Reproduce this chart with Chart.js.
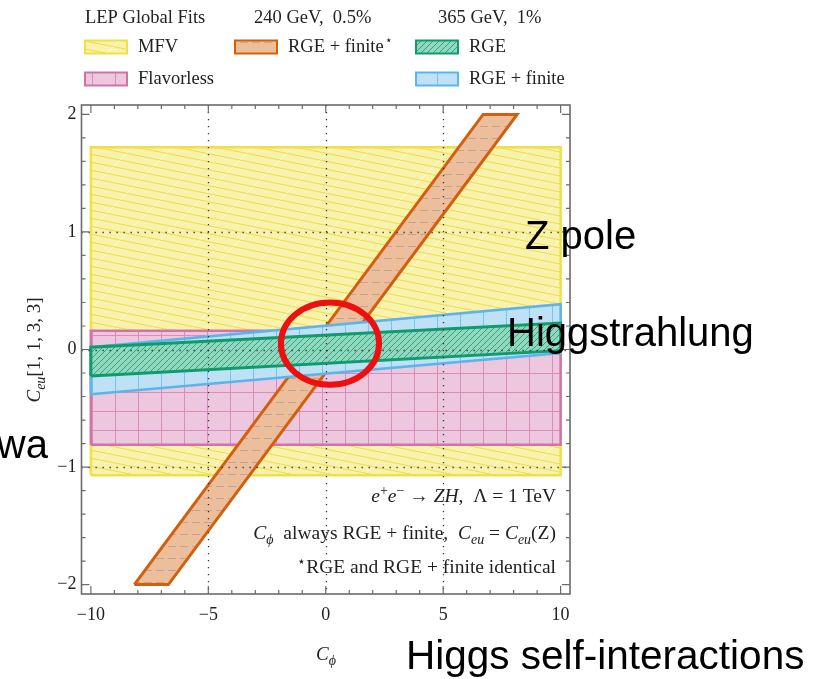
<!DOCTYPE html>
<html>
<head>
<meta charset="utf-8">
<script src="https://cdn.jsdelivr.net/npm/chart.js@4.4.1/dist/chart.umd.min.js"></script>
<style>
  html, body { margin: 0; padding: 0; background: #fff; }
  canvas { display: block; }
</style>
</head>
<body>
<canvas id="c" width="826" height="679"></canvas>
<script>
// ---- data ----
const bandX = [-10, 10];                 // C_phi at the band ends
const mfvLow = [-1.07, -1.07];
const mfvHigh = [1.72, 1.72];
const flavLow = [-0.81, -0.81];
const flavHigh = [0.16, 0.16];
const rgeLow = [-0.225, -0.01];
const rgeHigh = [0.02, 0.225];
const rgeFinLow = [-0.38, -0.03];
const rgeFinHigh = [0.02, 0.385];
const starY = [-2, 2];                   // the steep 240 GeV band
const starLeftX = [-8.15, 6.7];
const starRightX = [-6.7, 8.15];

const refX = [-5, 0, 5];                 // dotted reference lines
const refY = [-1, 0, 1];

const legendHeaders = ['LEP Global Fits', '240 GeV,  0.5%', '365 GeV,  1%'];
const overlayLabels = ['Z pole', 'Higgstrahlung', 'wa', 'Higgs self-interactions'];

// highlighted region (red ellipse): centre and half-widths in data units
const ringCenter = [0.18, 0.05];
const ringRadius = [2.09, 0.35];

const SERIF = '"Liberation Serif", "DejaVu Serif", serif';
const SANS = '"Liberation Sans", Arial, sans-serif';
const TXT = 18.5;    // legend text size
const NOTE = 19.5;   // note text size

const canvas = document.getElementById('c');
const ctx = canvas.getContext('2d');

// ---- hatch patterns ----
function makePattern(w, h, bg, draw, shift) {
    const c = document.createElement('canvas');
    c.width = w; c.height = h;
    const g = c.getContext('2d');
    g.fillStyle = bg;
    g.fillRect(0, 0, w, h);
    draw(g, w, h);
    const p = ctx.createPattern(c, 'repeat');
    if (shift) p.setTransform(new DOMMatrix().translate(shift[0], shift[1]));
    return p;
}

const mfvPattern = makePattern(40, 40, '#f9f2ad', (g) => {
    g.strokeStyle = 'rgba(255,255,255,0.6)';
    g.lineWidth = 1;
    g.beginPath(); g.moveTo(0, 40); g.lineTo(40, 0); g.stroke();
    g.strokeStyle = '#efdc48';
    g.lineWidth = 1.1;
    for (let k = -1; k <= 5; k++) {
        g.beginPath(); g.moveTo(0, 8 * k); g.lineTo(40, 8 * k + 8); g.stroke();
    }
});

const flavPattern = makePattern(23, 19, '#ecc7dd', (g, w, h) => {
    g.strokeStyle = '#d98dbd';
    g.lineWidth = 1;
    g.beginPath();
    g.moveTo(0.5, 0); g.lineTo(0.5, h);
    g.moveTo(0, 0.5); g.lineTo(w, 0.5);
    g.stroke();
}, [0, 12]);

const rgeFinPattern = makePattern(23, 23, '#bfe1f6', (g, w, h) => {
    g.strokeStyle = '#7cc2ee';
    g.lineWidth = 1;
    g.beginPath(); g.moveTo(0.5, 0); g.lineTo(0.5, h); g.stroke();
});

const rgePattern = makePattern(6, 6, '#93d7bf', (g) => {
    g.strokeStyle = '#2aa57d';
    g.lineWidth = 1;
    g.beginPath();
    g.moveTo(0, 6); g.lineTo(6, 0);
    g.moveTo(-3, 3); g.lineTo(3, -3);
    g.moveTo(3, 9); g.lineTo(9, 3);
    g.stroke();
});

const starPattern = makePattern(12, 12, '#edbe9b', (g) => {
    g.strokeStyle = 'rgba(150,140,140,0.5)';
    g.lineWidth = 1;
    g.beginPath(); g.moveTo(0, 6.5); g.lineTo(8, 6.5); g.stroke();
});

// closed polygon for a band between two straight edges
function band(xs, lo, hi) {
    return [
        { x: xs[0], y: lo[0] }, { x: xs[1], y: lo[1] },
        { x: xs[1], y: hi[1] }, { x: xs[0], y: hi[0] },
        { x: xs[0], y: lo[0] }
    ];
}
function slantBand(ys, left, right) {
    return [
        { x: left[0], y: ys[0] }, { x: right[0], y: ys[0] },
        { x: right[1], y: ys[1] }, { x: left[1], y: ys[1] },
        { x: left[0], y: ys[0] }
    ];
}

function region(label, data, fillPat, edge, width, order) {
    return {
        label: label,
        data: data,
        backgroundColor: fillPat,
        borderColor: edge,
        borderWidth: width,
        borderJoinStyle: 'miter',
        fill: 'shape',
        pointRadius: 0,
        tension: 0,
        order: order
    };
}

const datasets = [
    region('RGE', band(bandX, rgeLow, rgeHigh), rgePattern, '#109b6f', 3, 0),
    region('RGE + finite', band(bandX, rgeFinLow, rgeFinHigh), rgeFinPattern, '#5cb5ea', 2.5, 1),
    region('RGE + finite*', slantBand(starY, starLeftX, starRightX), starPattern, '#d35f0e', 3, 2),
    region('Flavorless', band(bandX, flavLow, flavHigh), flavPattern, '#cf74a9', 2.5, 3),
    region('MFV', band(bandX, mfvLow, mfvHigh), mfvPattern, '#efe045', 2.5, 4)
];

// ---- rich text helper (italic, sub/superscripts) ----
function pieceFont(p, size) {
    const s = p.pos ? Math.round(size * 0.72) : size;
    return (p.it ? 'italic ' : '') + s + 'px ' + SERIF;
}
function richWidth(g, pieces, size) {
    let w = 0;
    pieces.forEach(p => { g.font = pieceFont(p, size); w += g.measureText(p.t).width; });
    return w;
}
function drawRich(g, pieces, x, y, size, align) {
    const w = richWidth(g, pieces, size);
    let cx = align === 'right' ? x - w : align === 'center' ? x - w / 2 : x;
    g.textBaseline = 'alphabetic';
    g.textAlign = 'left';
    pieces.forEach(p => {
        g.font = pieceFont(p, size);
        const dy = p.pos === 'sub' ? size * 0.25 : p.pos === 'sup' ? -size * 0.38 : 0;
        g.fillText(p.t, cx, y + dy);
        cx += g.measureText(p.t).width;
    });
}

const noteRich = [
    [{ t: 'e', it: 1 }, { t: '+', pos: 'sup' }, { t: 'e', it: 1 }, { t: '−', pos: 'sup' },
     { t: ' → ' }, { t: 'ZH', it: 1 }, { t: ',  Λ = 1 TeV' }],
    [{ t: 'C', it: 1 }, { t: 'ϕ', it: 1, pos: 'sub' }, { t: '  always RGE + finite,  ' },
     { t: 'C', it: 1 }, { t: 'eu', it: 1, pos: 'sub' }, { t: ' = ' },
     { t: 'C', it: 1 }, { t: 'eu', it: 1, pos: 'sub' }, { t: '(Z)' }],
    [{ t: '⋆', pos: 'sup' }, { t: 'RGE and RGE + finite identical' }]
];

// ---- decorations: frame, inward ticks, dotted lines, legend, notes ----
const decor = {
    id: 'decor',
    afterDatasetsDraw(chart) {
        const g = chart.ctx;
        const { left, right, top, bottom } = chart.chartArea;
        const xs = chart.scales.x, ys = chart.scales.y;

        // dotted reference lines
        g.save();
        g.strokeStyle = '#333';
        g.lineWidth = 1.3;
        g.setLineDash([1.3, 5.7]);
        refX.forEach(v => {
            const px = Math.round(xs.getPixelForValue(v)) + 0.5;
            g.beginPath(); g.moveTo(px, top); g.lineTo(px, bottom); g.stroke();
        });
        refY.forEach(v => {
            const py = Math.round(ys.getPixelForValue(v)) + 0.5;
            g.beginPath(); g.moveTo(left, py); g.lineTo(right, py); g.stroke();
        });
        g.restore();

        // frame
        g.save();
        g.strokeStyle = '#6b6b6b';
        g.lineWidth = 1.6;
        g.strokeRect(left, top, right - left, bottom - top);

        // inward ticks on all four sides
        g.lineWidth = 1.2;
        g.beginPath();
        for (let v = -10; v <= 10; v++) {
            const px = xs.getPixelForValue(v);
            const len = v % 5 === 0 ? 8 : 4;
            g.moveTo(px, bottom); g.lineTo(px, bottom - len);
            g.moveTo(px, top); g.lineTo(px, top + len);
        }
        for (let k = -10; k <= 10; k++) {
            const py = ys.getPixelForValue(k / 5);
            const len = k % 5 === 0 ? 8 : 4;
            g.moveTo(left, py); g.lineTo(left + len, py);
            g.moveTo(right, py); g.lineTo(right - len, py);
        }
        g.stroke();
        g.restore();
    },
    afterDraw(chart) {
        const g = chart.ctx;
        const xs = chart.scales.x, ys = chart.scales.y;
        g.save();
        g.fillStyle = '#222';

        // axis titles
        drawRich(g, [{ t: 'C', it: 1 }, { t: 'ϕ', it: 1, pos: 'sub' }], 326, 660, 19, 'center');
        g.save();
        g.translate(40, 350);
        g.rotate(-Math.PI / 2);
        drawRich(g, [{ t: 'C', it: 1 }, { t: 'eu', it: 1, pos: 'sub' }, { t: '[1, 1, 3, 3]' }], 0, 0, 19, 'center');
        g.restore();

        // legend
        g.font = TXT + 'px ' + SERIF;
        g.textBaseline = 'middle';
        g.textAlign = 'left';
        const headX = [85, 254, 438];
        legendHeaders.forEach((h, i) => g.fillText(h, headX[i], 18));
        const byLabel = {};
        chart.data.datasets.forEach(d => { byLabel[d.label] = d; });
        const items = [
            ['MFV', 85, 47], ['Flavorless', 85, 79],
            ['RGE + finite*', 235, 47],
            ['RGE', 416, 47], ['RGE + finite', 416, 79]
        ];
        items.forEach(([name, x, y]) => {
            const d = byLabel[name];
            g.fillStyle = d.backgroundColor;
            g.fillRect(x, y - 6.5, 42, 13);
            g.strokeStyle = d.borderColor;
            g.lineWidth = 2;
            g.strokeRect(x, y - 6.5, 42, 13);
            g.fillStyle = '#222';
            const txt = name.replace('*', '');
            g.font = TXT + 'px ' + SERIF;
            const tw = g.measureText(txt).width;
            g.fillText(txt, x + 53, y);
            if (name.endsWith('*')) {
                g.font = '12px ' + SERIF;
                g.fillText('⋆', x + 53 + tw + 1, y - 6);
            }
        });

        // notes in the lower right
        const noteY = [502, 539, 573];
        noteRich.forEach((pieces, i) => drawRich(g, pieces, 556, noteY[i], NOTE, 'right'));

        // red ring
        g.strokeStyle = '#ee1010';
        g.lineWidth = 6;
        const cx = xs.getPixelForValue(ringCenter[0]);
        const cy = ys.getPixelForValue(ringCenter[1]);
        const rx = xs.getPixelForValue(ringCenter[0] + ringRadius[0]) - cx;
        const ry = cy - ys.getPixelForValue(ringCenter[1] + ringRadius[1]);
        g.beginPath();
        g.ellipse(cx, cy, rx, ry, 0, 0, Math.PI * 2);
        g.stroke();

        // overlay labels
        g.fillStyle = '#000';
        g.font = '40px ' + SANS;
        g.textBaseline = 'alphabetic';
        g.textAlign = 'left';
        g.fillText(overlayLabels[0], 525, 249);
        g.fillText(overlayLabels[1], 507, 346);
        g.textAlign = 'right';
        g.fillText(overlayLabels[2], 48, 458);
        g.textAlign = 'left';
        g.font = '40.5px ' + SANS;
        g.fillText(overlayLabels[3], 406, 669);
        g.restore();
    }
};

function tickText(v) {
    return v < 0 ? '−' + Math.abs(v) : String(v);
}

new Chart(ctx, {
    type: 'line',
    data: { datasets: datasets },
    options: {
        responsive: false,
        animation: false,
        layout: { padding: { top: 105, right: 256, left: 0, bottom: 0 } },
        plugins: {
            legend: { display: false },
            tooltip: { enabled: false }
        },
        scales: {
            x: {
                type: 'linear',
                min: -10.4,
                max: 10.4,
                afterFit: (s) => { s.height = 85; },
                grid: { display: false, drawTicks: false },
                border: { display: false },
                ticks: {
                    stepSize: 5,
                    includeBounds: false,
                    padding: 10,
                    maxRotation: 0,
                    color: '#222',
                    font: { family: SERIF, size: 18 },
                    callback: tickText
                }
            },
            y: {
                type: 'linear',
                min: -2.08,
                max: 2.08,
                afterFit: (s) => { s.width = 81.5; },
                grid: { display: false, drawTicks: false },
                border: { display: false },
                ticks: {
                    stepSize: 1,
                    includeBounds: false,
                    padding: 5,
                    color: '#222',
                    font: { family: SERIF, size: 18 },
                    callback: tickText
                }
            }
        }
    },
    plugins: [decor]
});
</script>
</body>
</html>
